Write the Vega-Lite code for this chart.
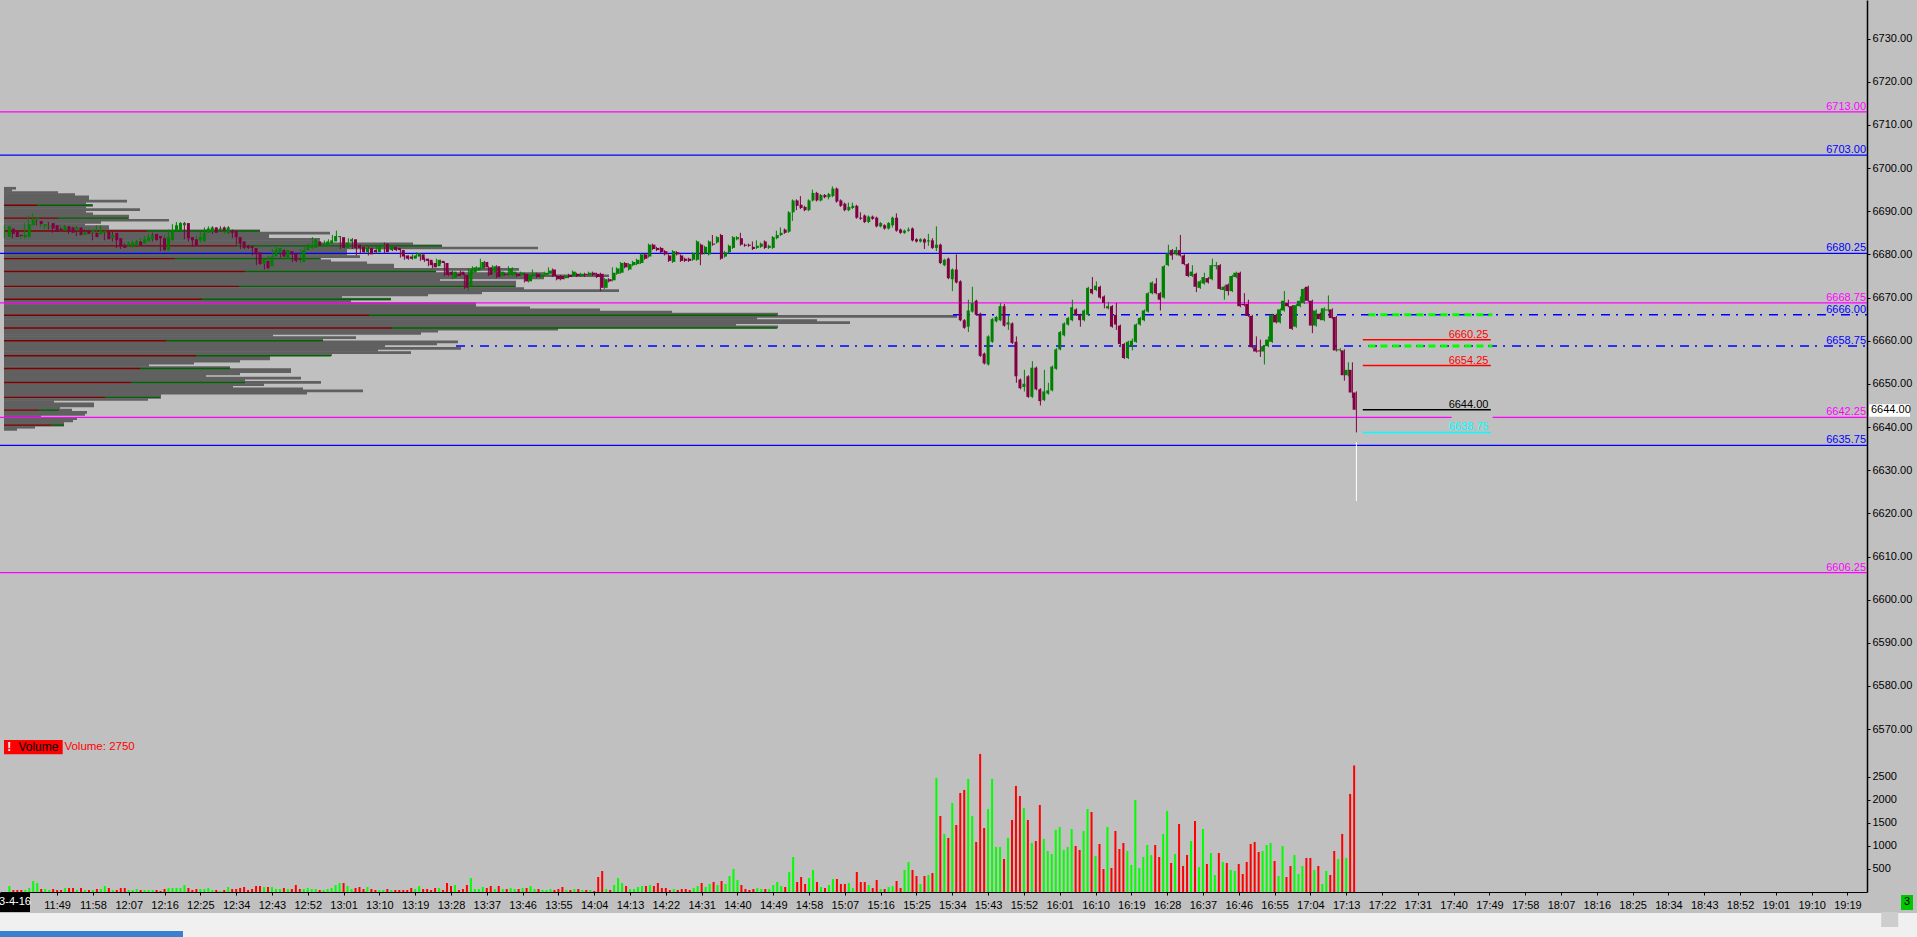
{
"$schema":"https://vega.github.io/schema/vega-lite/v6.json",
"width":1867,"height":892,
"autosize":{"type":"none"},
"padding":{"left":0,"top":0,"right":50,"bottom":45},
"background":"#c0c0c0",
"config":{
 "view":{"stroke":null,"fill":"#c0c0c0"},
 "axis":{"grid":false,"domainColor":"#000000","tickColor":"#000000","labelColor":"#000000","labelFont":"Liberation Sans","labelFontSize":11,"tickSize":3,"labelFlush":false,"labelOverlap":false},
 "text":{"font":"Liberation Sans","fontSize":11}
},
"datasets":{
 "lv":[{"p":6713,"k":"m"},{"p":6703,"k":"b"},{"p":6680.25,"k":"b"},{"p":6668.75,"k":"m"},{"p":6666,"k":"d","t0":934.15},{"p":6658.75,"k":"d","t0":809.9},{"p":6642.25,"k":"m"},{"p":6635.75,"k":"b"},{"p":6606.25,"k":"m"}],
 "mk":[{"p":6660.25,"k":"r"},{"p":6654.25,"k":"r"},{"p":6644,"k":"k"},{"p":6638.75,"k":"c"}],
 "prof":[{"p":6696,"w":12},{"p":6695.5,"w":8},{"p":6695,"w":54},{"p":6694.5,"w":71},{"p":6694,"w":85},{"p":6693.5,"w":85},{"p":6693,"w":123},{"p":6692.5,"w":82},{"p":6692,"w":89},{"p":6691.5,"w":82},{"p":6691,"w":136},{"p":6690.5,"w":82},{"p":6690,"w":89},{"p":6689.5,"w":125},{"p":6689,"w":125},{"p":6688.5,"w":165},{"p":6688,"w":97},{"p":6687.5,"w":81},{"p":6687,"w":105},{"p":6686.5,"w":105},{"p":6686,"w":256},{"p":6685.5,"w":326},{"p":6685,"w":265},{"p":6684.5,"w":265},{"p":6684,"w":316},{"p":6683.5,"w":316},{"p":6683,"w":409},{"p":6682.5,"w":438},{"p":6682,"w":534},{"p":6681.5,"w":343},{"p":6681,"w":343},{"p":6680.5,"w":343},{"p":6680,"w":356},{"p":6679.5,"w":317},{"p":6679,"w":327},{"p":6678.5,"w":363},{"p":6678,"w":390},{"p":6677.5,"w":390},{"p":6677,"w":515},{"p":6676.5,"w":432},{"p":6676,"w":540},{"p":6675.5,"w":605},{"p":6675,"w":540},{"p":6674.5,"w":436},{"p":6674,"w":512},{"p":6673.5,"w":512},{"p":6673,"w":512},{"p":6672.5,"w":520},{"p":6672,"w":615},{"p":6671.5,"w":478},{"p":6671,"w":424},{"p":6670.5,"w":338},{"p":6670,"w":387},{"p":6669.5,"w":347},{"p":6669,"w":472},{"p":6668.5,"w":472},{"p":6668,"w":526},{"p":6667.5,"w":596},{"p":6667,"w":668},{"p":6666.5,"w":774},{"p":6666,"w":953},{"p":6665.5,"w":753},{"p":6665,"w":813},{"p":6664.5,"w":846},{"p":6664,"w":732},{"p":6663.5,"w":774},{"p":6663,"w":554},{"p":6662.5,"w":434},{"p":6662,"w":417},{"p":6661.5,"w":269},{"p":6661,"w":352},{"p":6660.5,"w":319},{"p":6660,"w":454},{"p":6659.5,"w":433},{"p":6659,"w":381},{"p":6658.5,"w":457},{"p":6658,"w":374},{"p":6657.5,"w":407},{"p":6657,"w":328},{"p":6656.5,"w":266},{"p":6656,"w":266},{"p":6655.5,"w":236},{"p":6655,"w":190},{"p":6654.5,"w":145},{"p":6654,"w":226},{"p":6653.5,"w":287},{"p":6653,"w":287},{"p":6652.5,"w":236},{"p":6652,"w":202},{"p":6651.5,"w":297},{"p":6651,"w":241},{"p":6650.5,"w":317},{"p":6650,"w":260},{"p":6649.5,"w":229},{"p":6649,"w":299},{"p":6648.5,"w":359},{"p":6648,"w":303},{"p":6647.5,"w":157},{"p":6647,"w":157},{"p":6646.5,"w":144},{"p":6646,"w":50},{"p":6645.5,"w":90},{"p":6645,"w":90},{"p":6644.5,"w":56},{"p":6644,"w":68},{"p":6643.5,"w":83},{"p":6643,"w":81},{"p":6642.5,"w":37},{"p":6642,"w":73},{"p":6641.5,"w":69},{"p":6641,"w":60},{"p":6640.5,"w":60},{"p":6640,"w":31},{"p":6639.5,"w":13}],
 "delta":[{"p":6692,"r":33,"g":88},{"p":6689,"r":54,"g":124},{"p":6686,"r":143,"g":256},{"p":6682.5,"r":233,"g":438},{"p":6679.5,"r":171,"g":316},{"p":6676.5,"r":241,"g":432},{"p":6673,"r":235,"g":511},{"p":6670,"r":198,"g":387},{"p":6666.25,"r":365,"g":773},{"p":6663.25,"r":388,"g":773},{"p":6660.25,"r":162,"g":319},{"p":6656.75,"r":192,"g":327},{"p":6653.75,"r":136,"g":226},{"p":6650.5,"r":127,"g":241},{"p":6647,"r":101,"g":156},{"p":6644,"r":35,"g":55},{"p":6640.5,"r":47,"g":60}],
 "c":[
{"t":697,"o":6684,"h":6686.75,"l":6683.75,"c":6686.5,"v":130},
{"t":698,"o":6686,"h":6686.25,"l":6684.5,"c":6684.75,"v":43},
{"t":699,"o":6685.5,"h":6685.75,"l":6683.75,"c":6684,"v":43},
{"t":700,"o":6684.5,"h":6684.5,"l":6684,"c":6684.25,"v":43},
{"t":701,"o":6684,"h":6684.75,"l":6683.75,"c":6684.5,"v":43},
{"t":702,"o":6684,"h":6687.25,"l":6683.75,"c":6687,"v":87},
{"t":703,"o":6686.75,"h":6689,"l":6686.5,"c":6688,"v":240},
{"t":704,"o":6688,"h":6689.5,"l":6687.25,"c":6688.5,"v":196},
{"t":705,"o":6687.75,"h":6688,"l":6686.75,"c":6687,"v":65},
{"t":706,"o":6686.5,"h":6687.25,"l":6686.25,"c":6687,"v":65},
{"t":707,"o":6686.25,"h":6686.75,"l":6685.75,"c":6686.5,"v":43},
{"t":708,"o":6687.25,"h":6687.5,"l":6685.75,"c":6686,"v":65},
{"t":709,"o":6686.75,"h":6687,"l":6685,"c":6685.25,"v":43},
{"t":710,"o":6686,"h":6686.25,"l":6685.25,"c":6685.5,"v":43},
{"t":711,"o":6685.5,"h":6686.75,"l":6685.25,"c":6686.5,"v":87},
{"t":712,"o":6686.5,"h":6686.75,"l":6685.25,"c":6685.5,"v":87},
{"t":713,"o":6686.25,"h":6686.5,"l":6684.75,"c":6685,"v":87},
{"t":714,"o":6685.5,"h":6686.5,"l":6685.25,"c":6686.25,"v":43},
{"t":715,"o":6686.25,"h":6686.5,"l":6684.25,"c":6684.5,"v":87},
{"t":716,"o":6684.5,"h":6685.5,"l":6684.25,"c":6685.25,"v":43},
{"t":717,"o":6685.5,"h":6685.75,"l":6684.5,"c":6684.75,"v":43},
{"t":718,"o":6685,"h":6686,"l":6684.75,"c":6685.75,"v":43},
{"t":719,"o":6685,"h":6685.25,"l":6683.25,"c":6684,"v":65},
{"t":720,"o":6684.75,"h":6686.75,"l":6684.5,"c":6685.5,"v":65},
{"t":721,"o":6685,"h":6686.75,"l":6684.5,"c":6685.5,"v":130},
{"t":722,"o":6685.25,"h":6685.5,"l":6683.25,"c":6683.5,"v":87},
{"t":723,"o":6683.75,"h":6684.75,"l":6683.5,"c":6684.5,"v":43},
{"t":724,"o":6685,"h":6685.25,"l":6683,"c":6683.25,"v":43},
{"t":725,"o":6683.75,"h":6684,"l":6681.5,"c":6681.75,"v":87},
{"t":726,"o":6682.25,"h":6682.5,"l":6681.25,"c":6681.5,"v":87},
{"t":727,"o":6682,"h":6682.75,"l":6681.75,"c":6682.5,"v":43},
{"t":728,"o":6682,"h":6683,"l":6681.75,"c":6682.75,"v":43},
{"t":729,"o":6682,"h":6683.25,"l":6681.5,"c":6683,"v":65},
{"t":730,"o":6683,"h":6683.25,"l":6681.75,"c":6682,"v":43},
{"t":731,"o":6682.5,"h":6683.75,"l":6682.25,"c":6683.5,"v":43},
{"t":732,"o":6683,"h":6684.25,"l":6682.75,"c":6684,"v":43},
{"t":733,"o":6683.5,"h":6684.75,"l":6683.25,"c":6684.5,"v":43},
{"t":734,"o":6684.75,"h":6685,"l":6683,"c":6683.25,"v":43},
{"t":735,"o":6684.25,"h":6684.5,"l":6683.5,"c":6683.75,"v":22},
{"t":736,"o":6683.75,"h":6684,"l":6680.75,"c":6681,"v":65},
{"t":737,"o":6681,"h":6684.5,"l":6680.75,"c":6684,"v":87},
{"t":738,"o":6683.25,"h":6685.75,"l":6683,"c":6685.5,"v":87},
{"t":739,"o":6685.5,"h":6687,"l":6685.25,"c":6686.75,"v":87},
{"t":740,"o":6685.5,"h":6687.5,"l":6685.25,"c":6687.25,"v":87},
{"t":741,"o":6686.75,"h":6687.5,"l":6686.5,"c":6687.25,"v":152},
{"t":742,"o":6687.25,"h":6687.5,"l":6683.5,"c":6683.75,"v":87},
{"t":743,"o":6684,"h":6684.25,"l":6683,"c":6683.25,"v":43},
{"t":744,"o":6683.5,"h":6683.75,"l":6681.75,"c":6682,"v":65},
{"t":745,"o":6683.25,"h":6684.25,"l":6683,"c":6684,"v":65},
{"t":746,"o":6683,"h":6685.25,"l":6682.75,"c":6685,"v":65},
{"t":747,"o":6685,"h":6686.25,"l":6684.75,"c":6686,"v":87},
{"t":748,"o":6685.25,"h":6686.5,"l":6685,"c":6686.25,"v":43},
{"t":749,"o":6686.25,"h":6686.5,"l":6684.75,"c":6685,"v":43},
{"t":750,"o":6685.5,"h":6686.25,"l":6685.25,"c":6686,"v":22},
{"t":751,"o":6686.25,"h":6686.5,"l":6685.25,"c":6685.5,"v":43},
{"t":752,"o":6685,"h":6686.5,"l":6684.75,"c":6686.25,"v":109},
{"t":753,"o":6685.5,"h":6686.5,"l":6684.75,"c":6685,"v":65},
{"t":754,"o":6685.5,"h":6685.75,"l":6683.75,"c":6684,"v":65},
{"t":755,"o":6684,"h":6684.25,"l":6682.25,"c":6682.5,"v":87},
{"t":756,"o":6683,"h":6683.25,"l":6681.25,"c":6681.5,"v":109},
{"t":757,"o":6682,"h":6682.25,"l":6681.25,"c":6681.5,"v":43},
{"t":758,"o":6682,"h":6682.25,"l":6681.25,"c":6681.5,"v":65},
{"t":759,"o":6681.5,"h":6681.75,"l":6679.75,"c":6680,"v":130},
{"t":760,"o":6680.5,"h":6680.75,"l":6677.5,"c":6677.75,"v":130},
{"t":761,"o":6677.75,"h":6679.25,"l":6677.5,"c":6679,"v":109},
{"t":762,"o":6678.5,"h":6678.75,"l":6676.5,"c":6676.75,"v":109},
{"t":763,"o":6677.25,"h":6679.75,"l":6677,"c":6679.5,"v":109},
{"t":764,"o":6679.5,"h":6681.25,"l":6679.25,"c":6681,"v":65},
{"t":765,"o":6680.25,"h":6681.75,"l":6680,"c":6681.5,"v":65},
{"t":766,"o":6681,"h":6681.25,"l":6679.25,"c":6679.5,"v":87},
{"t":767,"o":6679,"h":6681.25,"l":6678.75,"c":6681,"v":65},
{"t":768,"o":6680.75,"h":6681,"l":6679.75,"c":6680,"v":65},
{"t":769,"o":6680.25,"h":6680.5,"l":6678.25,"c":6678.5,"v":152},
{"t":770,"o":6679,"h":6679.25,"l":6678.25,"c":6678.75,"v":65},
{"t":771,"o":6678.25,"h":6681.25,"l":6678,"c":6681,"v":65},
{"t":772,"o":6681,"h":6682,"l":6680.75,"c":6681.75,"v":87},
{"t":773,"o":6681.5,"h":6682.5,"l":6681.25,"c":6682.25,"v":65},
{"t":774,"o":6681.5,"h":6684,"l":6681.25,"c":6683.5,"v":65},
{"t":775,"o":6683,"h":6683.25,"l":6681.75,"c":6682,"v":43},
{"t":776,"o":6682,"h":6682.75,"l":6681.75,"c":6682.5,"v":43},
{"t":777,"o":6682,"h":6683.25,"l":6681.75,"c":6683,"v":65},
{"t":778,"o":6682.5,"h":6683.5,"l":6682.25,"c":6683.25,"v":87},
{"t":779,"o":6683,"h":6684.5,"l":6682.75,"c":6684.25,"v":152},
{"t":780,"o":6684,"h":6685.5,"l":6683.5,"c":6684.25,"v":196},
{"t":781,"o":6684,"h":6684.25,"l":6681.25,"c":6681.5,"v":196},
{"t":782,"o":6681.5,"h":6683,"l":6681.25,"c":6682.75,"v":130},
{"t":783,"o":6683,"h":6683.75,"l":6682.75,"c":6683.5,"v":65},
{"t":784,"o":6683.5,"h":6683.75,"l":6681.25,"c":6681.5,"v":87},
{"t":785,"o":6682.25,"h":6682.5,"l":6679.75,"c":6681.5,"v":109},
{"t":786,"o":6681.75,"h":6682,"l":6680.25,"c":6680.5,"v":65},
{"t":787,"o":6680.5,"h":6681.75,"l":6680.25,"c":6681.5,"v":109},
{"t":788,"o":6681.5,"h":6681.75,"l":6679.75,"c":6680,"v":65},
{"t":789,"o":6681,"h":6681.25,"l":6680.25,"c":6680.5,"v":43},
{"t":790,"o":6680.5,"h":6682,"l":6680.25,"c":6681.75,"v":43},
{"t":791,"o":6681.75,"h":6682.5,"l":6681.5,"c":6682.25,"v":43},
{"t":792,"o":6682.5,"h":6682.75,"l":6680.25,"c":6680.5,"v":65},
{"t":793,"o":6681,"h":6682.25,"l":6680.75,"c":6682,"v":43},
{"t":794,"o":6681.75,"h":6682,"l":6680.75,"c":6681,"v":43},
{"t":795,"o":6681.5,"h":6681.75,"l":6680.75,"c":6681,"v":43},
{"t":796,"o":6681,"h":6681.25,"l":6679.25,"c":6679.5,"v":43},
{"t":797,"o":6679.75,"h":6680,"l":6678.75,"c":6679,"v":43},
{"t":798,"o":6679.5,"h":6679.75,"l":6678.75,"c":6679,"v":87},
{"t":799,"o":6679,"h":6680,"l":6678.75,"c":6679.75,"v":65},
{"t":800,"o":6679.5,"h":6680.5,"l":6679.25,"c":6680.25,"v":130},
{"t":801,"o":6680,"h":6680.25,"l":6678.5,"c":6678.75,"v":65},
{"t":802,"o":6679,"h":6679.25,"l":6678.25,"c":6678.5,"v":65},
{"t":803,"o":6678.75,"h":6679,"l":6677.25,"c":6677.5,"v":43},
{"t":804,"o":6678,"h":6678.25,"l":6676.75,"c":6677,"v":87},
{"t":805,"o":6677.25,"h":6679,"l":6677,"c":6678.75,"v":87},
{"t":806,"o":6678.5,"h":6678.75,"l":6677.75,"c":6678,"v":43},
{"t":807,"o":6678,"h":6678.25,"l":6675,"c":6675.25,"v":196},
{"t":808,"o":6676,"h":6676.25,"l":6675,"c":6675.25,"v":130},
{"t":809,"o":6674.5,"h":6676.25,"l":6674.25,"c":6676,"v":152},
{"t":810,"o":6675.5,"h":6675.75,"l":6674.75,"c":6675,"v":43},
{"t":811,"o":6676,"h":6676.25,"l":6675,"c":6675.25,"v":65},
{"t":812,"o":6675.25,"h":6675.5,"l":6672,"c":6672.25,"v":152},
{"t":813,"o":6672.75,"h":6676.75,"l":6671.5,"c":6676.5,"v":305},
{"t":814,"o":6675.75,"h":6677.25,"l":6675.5,"c":6677,"v":65},
{"t":815,"o":6676.25,"h":6677.25,"l":6676,"c":6677,"v":65},
{"t":816,"o":6676.75,"h":6679,"l":6676.5,"c":6678.25,"v":109},
{"t":817,"o":6678.25,"h":6678.5,"l":6676.75,"c":6677,"v":87},
{"t":818,"o":6677,"h":6677.25,"l":6675,"c":6675.25,"v":130},
{"t":819,"o":6675.75,"h":6677.5,"l":6675.5,"c":6677.25,"v":65},
{"t":820,"o":6677.25,"h":6677.5,"l":6674.5,"c":6674.75,"v":130},
{"t":821,"o":6675,"h":6676.25,"l":6674.75,"c":6676,"v":65},
{"t":822,"o":6675.5,"h":6675.75,"l":6675,"c":6675.25,"v":65},
{"t":823,"o":6675.25,"h":6677.25,"l":6675,"c":6676.75,"v":87},
{"t":824,"o":6675.25,"h":6677,"l":6675,"c":6676,"v":65},
{"t":825,"o":6675.5,"h":6675.75,"l":6674.75,"c":6675,"v":65},
{"t":826,"o":6675.25,"h":6676,"l":6675,"c":6675.75,"v":87},
{"t":827,"o":6675.5,"h":6675.75,"l":6673.5,"c":6673.75,"v":87},
{"t":828,"o":6673.75,"h":6675.5,"l":6673.5,"c":6675.25,"v":130},
{"t":829,"o":6675,"h":6676.5,"l":6674.75,"c":6675.5,"v":65},
{"t":830,"o":6675.5,"h":6675.75,"l":6674.5,"c":6674.75,"v":65},
{"t":831,"o":6674.75,"h":6675.5,"l":6674.5,"c":6675.25,"v":43},
{"t":832,"o":6675.25,"h":6676,"l":6675,"c":6675.75,"v":43},
{"t":833,"o":6675.5,"h":6677,"l":6675.25,"c":6676.25,"v":65},
{"t":834,"o":6676.5,"h":6676.75,"l":6674.75,"c":6675,"v":43},
{"t":835,"o":6675,"h":6675.25,"l":6674,"c":6674.25,"v":65},
{"t":836,"o":6675,"h":6675.25,"l":6674,"c":6674.25,"v":109},
{"t":837,"o":6674.5,"h":6675.25,"l":6674.25,"c":6675,"v":43},
{"t":838,"o":6675.25,"h":6675.5,"l":6674.5,"c":6674.75,"v":43},
{"t":839,"o":6675,"h":6676.25,"l":6674.75,"c":6676,"v":65},
{"t":840,"o":6675.5,"h":6675.75,"l":6674.75,"c":6675,"v":65},
{"t":841,"o":6675,"h":6675.75,"l":6674.75,"c":6675.5,"v":43},
{"t":842,"o":6675.5,"h":6675.75,"l":6674.75,"c":6675.25,"v":43},
{"t":843,"o":6675.25,"h":6676,"l":6675,"c":6675.75,"v":43},
{"t":844,"o":6675.75,"h":6676,"l":6675,"c":6675.25,"v":22},
{"t":845,"o":6675.5,"h":6675.75,"l":6674.5,"c":6674.75,"v":326},
{"t":846,"o":6675.5,"h":6675.75,"l":6671.5,"c":6672.25,"v":457},
{"t":847,"o":6672.25,"h":6674.5,"l":6672,"c":6674.25,"v":65},
{"t":848,"o":6674.25,"h":6674.5,"l":6673.5,"c":6673.75,"v":43},
{"t":849,"o":6674,"h":6677,"l":6673.75,"c":6675.75,"v":152},
{"t":850,"o":6675.5,"h":6677,"l":6675.25,"c":6676.75,"v":305},
{"t":851,"o":6675.75,"h":6678.25,"l":6675.5,"c":6678,"v":196},
{"t":852,"o":6678,"h":6678.25,"l":6676.75,"c":6677,"v":130},
{"t":853,"o":6676.5,"h":6678,"l":6676.25,"c":6677.75,"v":65},
{"t":854,"o":6677.5,"h":6678.5,"l":6677.25,"c":6678.25,"v":65},
{"t":855,"o":6677.75,"h":6679,"l":6677.5,"c":6678.75,"v":109},
{"t":856,"o":6678,"h":6680.25,"l":6677.75,"c":6680,"v":130},
{"t":857,"o":6680,"h":6680.25,"l":6678.75,"c":6679,"v":130},
{"t":858,"o":6679.5,"h":6682.5,"l":6679.25,"c":6682.25,"v":152},
{"t":859,"o":6682.25,"h":6682.5,"l":6681,"c":6681.25,"v":130},
{"t":860,"o":6681.5,"h":6681.75,"l":6680.75,"c":6681,"v":196},
{"t":861,"o":6681.5,"h":6681.75,"l":6680.25,"c":6680.5,"v":87},
{"t":862,"o":6680.75,"h":6681,"l":6679.75,"c":6680,"v":87},
{"t":863,"o":6679.75,"h":6680,"l":6678.25,"c":6678.5,"v":43},
{"t":864,"o":6678.25,"h":6681,"l":6678,"c":6680.75,"v":65},
{"t":865,"o":6680.5,"h":6680.75,"l":6679.75,"c":6680,"v":43},
{"t":866,"o":6679.75,"h":6680,"l":6678.25,"c":6678.5,"v":65},
{"t":867,"o":6679,"h":6679.25,"l":6678.25,"c":6678.5,"v":65},
{"t":868,"o":6679,"h":6679.25,"l":6678.25,"c":6678.5,"v":43},
{"t":869,"o":6678.75,"h":6680.5,"l":6678.5,"c":6680.25,"v":87},
{"t":870,"o":6678.75,"h":6683.25,"l":6678.5,"c":6683,"v":130},
{"t":871,"o":6682.25,"h":6682.5,"l":6677.5,"c":6680,"v":196},
{"t":872,"o":6680.25,"h":6682,"l":6680,"c":6681.75,"v":109},
{"t":873,"o":6680,"h":6683.25,"l":6679.75,"c":6683,"v":174},
{"t":874,"o":6682.5,"h":6684.5,"l":6682,"c":6682.25,"v":218},
{"t":875,"o":6682.75,"h":6684.25,"l":6682.5,"c":6684,"v":152},
{"t":876,"o":6684.5,"h":6684.75,"l":6678.75,"c":6679,"v":239},
{"t":877,"o":6679.5,"h":6680.75,"l":6679.25,"c":6680.5,"v":174},
{"t":878,"o":6680.5,"h":6682.25,"l":6680.25,"c":6682,"v":348},
{"t":879,"o":6681.5,"h":6684.25,"l":6681.25,"c":6684,"v":500},
{"t":880,"o":6683.5,"h":6684.25,"l":6683.25,"c":6684,"v":261},
{"t":881,"o":6683.75,"h":6685,"l":6682,"c":6682.25,"v":152},
{"t":882,"o":6682.25,"h":6682.5,"l":6681.75,"c":6682,"v":65},
{"t":883,"o":6682.25,"h":6682.5,"l":6681.75,"c":6682,"v":43},
{"t":884,"o":6681.75,"h":6683,"l":6681,"c":6681.25,"v":65},
{"t":885,"o":6681.5,"h":6683.25,"l":6681.25,"c":6682,"v":87},
{"t":886,"o":6681.75,"h":6682.75,"l":6681.5,"c":6682.5,"v":65},
{"t":887,"o":6683,"h":6683.25,"l":6681.25,"c":6681.5,"v":65},
{"t":888,"o":6681.5,"h":6682.25,"l":6681.25,"c":6682,"v":65},
{"t":889,"o":6681.5,"h":6684.25,"l":6681.25,"c":6684,"v":152},
{"t":890,"o":6683.75,"h":6685.5,"l":6683.5,"c":6684.5,"v":218},
{"t":891,"o":6684.5,"h":6686.25,"l":6684.25,"c":6685,"v":130},
{"t":892,"o":6685.75,"h":6686,"l":6684.75,"c":6685,"v":109},
{"t":893,"o":6685.25,"h":6690,"l":6685,"c":6689.75,"v":435},
{"t":894,"o":6689.75,"h":6692.75,"l":6687.75,"c":6692.5,"v":761},
{"t":895,"o":6692.5,"h":6692.75,"l":6690.25,"c":6691.25,"v":218},
{"t":896,"o":6691.5,"h":6693.5,"l":6690.5,"c":6690.75,"v":326},
{"t":897,"o":6691,"h":6691.25,"l":6690,"c":6690.25,"v":174},
{"t":898,"o":6690.25,"h":6692.75,"l":6690,"c":6692.5,"v":305},
{"t":899,"o":6692.5,"h":6695,"l":6692.25,"c":6694.25,"v":479},
{"t":900,"o":6694.25,"h":6694.5,"l":6692.25,"c":6692.5,"v":218},
{"t":901,"o":6692.5,"h":6694,"l":6692.25,"c":6693.75,"v":109},
{"t":902,"o":6693.75,"h":6694,"l":6693,"c":6693.25,"v":87},
{"t":903,"o":6693.25,"h":6694.25,"l":6692.75,"c":6694,"v":152},
{"t":904,"o":6693.5,"h":6695.75,"l":6693.25,"c":6695.25,"v":283},
{"t":905,"o":6695.25,"h":6695.5,"l":6692,"c":6692.25,"v":283},
{"t":906,"o":6692.5,"h":6692.75,"l":6691,"c":6691.25,"v":174},
{"t":907,"o":6691.75,"h":6692,"l":6690,"c":6690.25,"v":174},
{"t":908,"o":6690.25,"h":6692,"l":6690,"c":6691,"v":196},
{"t":909,"o":6690.75,"h":6692,"l":6690.5,"c":6691.25,"v":87},
{"t":910,"o":6691.25,"h":6691.5,"l":6688.25,"c":6688.5,"v":435},
{"t":911,"o":6688.5,"h":6689.75,"l":6688,"c":6688.25,"v":218},
{"t":912,"o":6689,"h":6689.25,"l":6687.25,"c":6687.5,"v":218},
{"t":913,"o":6687.5,"h":6689,"l":6687.25,"c":6688.75,"v":152},
{"t":914,"o":6688.75,"h":6689,"l":6688,"c":6688.25,"v":87},
{"t":915,"o":6688.5,"h":6688.75,"l":6686.25,"c":6686.5,"v":261},
{"t":916,"o":6686.5,"h":6687.5,"l":6686.25,"c":6687.25,"v":65},
{"t":917,"o":6686.75,"h":6687,"l":6685.75,"c":6686,"v":65},
{"t":918,"o":6686,"h":6687.5,"l":6685.75,"c":6687.25,"v":109},
{"t":919,"o":6686.75,"h":6688.75,"l":6686.25,"c":6688.5,"v":130},
{"t":920,"o":6688.5,"h":6689.5,"l":6685.25,"c":6685.5,"v":239},
{"t":921,"o":6685.75,"h":6686,"l":6684.75,"c":6685,"v":87},
{"t":922,"o":6685,"h":6685.75,"l":6684.75,"c":6685.5,"v":479},
{"t":923,"o":6685.5,"h":6686.25,"l":6685.25,"c":6685.75,"v":653},
{"t":924,"o":6686,"h":6686.25,"l":6683,"c":6683.25,"v":479},
{"t":925,"o":6683.5,"h":6683.75,"l":6682.75,"c":6683,"v":348},
{"t":926,"o":6683,"h":6683.75,"l":6682.75,"c":6683.5,"v":174},
{"t":927,"o":6683.5,"h":6683.75,"l":6681.25,"c":6682.75,"v":348},
{"t":928,"o":6683,"h":6684.75,"l":6682,"c":6683.25,"v":370},
{"t":929,"o":6683.25,"h":6683.75,"l":6681.25,"c":6681.5,"v":413},
{"t":930,"o":6681.5,"h":6686.5,"l":6680.75,"c":6682.25,"v":2480},
{"t":931,"o":6682.25,"h":6682.5,"l":6677.75,"c":6678,"v":1653},
{"t":932,"o":6677.5,"h":6679,"l":6677.25,"c":6678.75,"v":1262},
{"t":933,"o":6679,"h":6679.25,"l":6674.25,"c":6674.5,"v":1175},
{"t":934,"o":6674.25,"h":6676.75,"l":6671.5,"c":6676.5,"v":1936},
{"t":935,"o":6676.5,"h":6680,"l":6673.25,"c":6673.5,"v":1457},
{"t":936,"o":6673.75,"h":6674,"l":6664.5,"c":6664.75,"v":2153},
{"t":937,"o":6664.75,"h":6665,"l":6662.75,"c":6663,"v":2219},
{"t":938,"o":6663.25,"h":6669.5,"l":6662,"c":6667,"v":2458},
{"t":939,"o":6666.75,"h":6672.5,"l":6666.5,"c":6668.75,"v":1653},
{"t":940,"o":6669.25,"h":6669.5,"l":6665.75,"c":6666,"v":1088},
{"t":941,"o":6666.25,"h":6666.5,"l":6656.25,"c":6656.5,"v":3002},
{"t":942,"o":6657,"h":6657.25,"l":6654.5,"c":6654.75,"v":1392},
{"t":943,"o":6654.5,"h":6661.25,"l":6654.25,"c":6661,"v":1805},
{"t":944,"o":6659.75,"h":6665.25,"l":6659.5,"c":6665,"v":2458},
{"t":945,"o":6664.5,"h":6665.75,"l":6664.25,"c":6665.5,"v":979},
{"t":946,"o":6664.75,"h":6668.75,"l":6664.5,"c":6668,"v":979},
{"t":947,"o":6668,"h":6668.5,"l":6663.25,"c":6663.5,"v":718},
{"t":948,"o":6663.75,"h":6666,"l":6662.5,"c":6664.25,"v":1175},
{"t":949,"o":6664,"h":6664.25,"l":6659.25,"c":6659.5,"v":1566},
{"t":950,"o":6659.75,"h":6661,"l":6650.25,"c":6651.75,"v":2306},
{"t":951,"o":6651,"h":6651.25,"l":6648.75,"c":6649,"v":2088},
{"t":952,"o":6649.25,"h":6653.25,"l":6648.25,"c":6650,"v":1827},
{"t":953,"o":6651.75,"h":6652,"l":6646.75,"c":6647,"v":1566},
{"t":954,"o":6647,"h":6655.25,"l":6646.75,"c":6653.75,"v":1066},
{"t":955,"o":6653.75,"h":6654,"l":6648.5,"c":6648.75,"v":1109},
{"t":956,"o":6648.75,"h":6649,"l":6645,"c":6646,"v":1892},
{"t":957,"o":6646.25,"h":6653.25,"l":6646,"c":6648.25,"v":1153},
{"t":958,"o":6647.75,"h":6650.25,"l":6647.5,"c":6648.5,"v":892},
{"t":959,"o":6648.5,"h":6654.25,"l":6648.25,"c":6654,"v":827},
{"t":960,"o":6653.5,"h":6658.25,"l":6653.25,"c":6658,"v":1349},
{"t":961,"o":6658,"h":6662.25,"l":6657.75,"c":6662,"v":1414},
{"t":962,"o":6661.25,"h":6664.25,"l":6661,"c":6664,"v":914},
{"t":963,"o":6663.75,"h":6665.5,"l":6663.5,"c":6665.25,"v":979},
{"t":964,"o":6664.75,"h":6669.5,"l":6664.5,"c":6667.75,"v":1370},
{"t":965,"o":6667.25,"h":6667.5,"l":6665.75,"c":6666,"v":1001},
{"t":966,"o":6666,"h":6666.25,"l":6663.25,"c":6664.75,"v":914},
{"t":967,"o":6664.75,"h":6667.25,"l":6664.5,"c":6667,"v":1327},
{"t":968,"o":6666,"h":6672.5,"l":6665.75,"c":6672.25,"v":1805},
{"t":969,"o":6672,"h":6674.75,"l":6670.75,"c":6671,"v":1740},
{"t":970,"o":6671.75,"h":6673.75,"l":6671.5,"c":6672.75,"v":783},
{"t":971,"o":6672.5,"h":6672.75,"l":6669.75,"c":6670,"v":1044},
{"t":972,"o":6670.25,"h":6670.5,"l":6667.5,"c":6668.75,"v":500},
{"t":973,"o":6667.5,"h":6669,"l":6667.25,"c":6668,"v":1414},
{"t":974,"o":6668,"h":6668.25,"l":6663,"c":6663.25,"v":522},
{"t":975,"o":6666,"h":6668.75,"l":6662.5,"c":6663.75,"v":1327},
{"t":976,"o":6663.5,"h":6663.75,"l":6659,"c":6659.25,"v":935},
{"t":977,"o":6659.25,"h":6659.5,"l":6655.75,"c":6656,"v":1066},
{"t":978,"o":6656,"h":6660,"l":6655.75,"c":6659.75,"v":892},
{"t":979,"o":6658.75,"h":6660.5,"l":6657.75,"c":6660,"v":587},
{"t":980,"o":6659.75,"h":6664,"l":6659.5,"c":6663.75,"v":2001},
{"t":981,"o":6663.75,"h":6665.5,"l":6663.5,"c":6665.25,"v":522},
{"t":982,"o":6664.75,"h":6667.25,"l":6664.5,"c":6667,"v":761},
{"t":983,"o":6666.75,"h":6671.25,"l":6666.5,"c":6671,"v":1022},
{"t":984,"o":6671,"h":6673.75,"l":6670.75,"c":6673.5,"v":805},
{"t":985,"o":6673.25,"h":6674.5,"l":6670.75,"c":6671,"v":1022},
{"t":986,"o":6671,"h":6671.25,"l":6667,"c":6669.5,"v":761},
{"t":987,"o":6670,"h":6677.5,"l":6669.75,"c":6677.25,"v":1262},
{"t":988,"o":6677.5,"h":6682.25,"l":6677.25,"c":6680.25,"v":1762},
{"t":989,"o":6681,"h":6681.25,"l":6678.75,"c":6679.75,"v":631},
{"t":990,"o":6680,"h":6681.75,"l":6679.75,"c":6681,"v":827},
{"t":991,"o":6681,"h":6684.5,"l":6679.5,"c":6679.75,"v":1479},
{"t":992,"o":6679.75,"h":6680,"l":6677.5,"c":6677.75,"v":566},
{"t":993,"o":6677.75,"h":6678,"l":6674.75,"c":6675,"v":805},
{"t":994,"o":6675,"h":6677.5,"l":6674.75,"c":6676,"v":1109},
{"t":995,"o":6675.5,"h":6675.75,"l":6671.25,"c":6672.5,"v":1544},
{"t":996,"o":6672.25,"h":6674,"l":6672,"c":6673.75,"v":544},
{"t":997,"o":6673.25,"h":6675.75,"l":6673,"c":6674.75,"v":1370},
{"t":998,"o":6674.5,"h":6674.75,"l":6673.25,"c":6673.5,"v":609},
{"t":999,"o":6674.25,"h":6679,"l":6674,"c":6677.5,"v":848},
{"t":1000,"o":6677.25,"h":6678.25,"l":6676.5,"c":6677.5,"v":370},
{"t":1001,"o":6677.5,"h":6677.75,"l":6671.75,"c":6672,"v":848},
{"t":1002,"o":6671.75,"h":6672.75,"l":6669.5,"c":6672.5,"v":653},
{"t":1003,"o":6673,"h":6673.25,"l":6670.5,"c":6671.5,"v":631},
{"t":1004,"o":6671.5,"h":6675.25,"l":6671.25,"c":6675,"v":479},
{"t":1005,"o":6674.75,"h":6676,"l":6674.5,"c":6675.75,"v":457},
{"t":1006,"o":6675.75,"h":6676,"l":6667.75,"c":6668,"v":609},
{"t":1007,"o":6668.5,"h":6671,"l":6668,"c":6668.25,"v":392},
{"t":1008,"o":6668.5,"h":6669.5,"l":6665.5,"c":6665.75,"v":653},
{"t":1009,"o":6665.75,"h":6666,"l":6658.25,"c":6658.5,"v":1044},
{"t":1010,"o":6658.5,"h":6661,"l":6657.25,"c":6657.5,"v":1088},
{"t":1011,"o":6657.75,"h":6660.25,"l":6656.25,"c":6657.5,"v":870},
{"t":1012,"o":6657.5,"h":6659,"l":6654.5,"c":6658.75,"v":892},
{"t":1013,"o":6658.75,"h":6661,"l":6658.5,"c":6660.25,"v":1022},
{"t":1014,"o":6659.75,"h":6666.25,"l":6659.5,"c":6666,"v":1066},
{"t":1015,"o":6666,"h":6666.25,"l":6664,"c":6664.25,"v":674},
{"t":1016,"o":6664.25,"h":6667.5,"l":6664,"c":6667.25,"v":348},
{"t":1017,"o":6667,"h":6671.5,"l":6666.75,"c":6669.25,"v":1001},
{"t":1018,"o":6668.75,"h":6669.5,"l":6667.75,"c":6668,"v":326},
{"t":1019,"o":6668,"h":6668.25,"l":6662.5,"c":6662.75,"v":566},
{"t":1020,"o":6663.25,"h":6668.5,"l":6663,"c":6668.25,"v":805},
{"t":1021,"o":6668,"h":6670.25,"l":6667.75,"c":6669.25,"v":392},
{"t":1022,"o":6668.75,"h":6672.25,"l":6668.5,"c":6672,"v":566},
{"t":1023,"o":6672.5,"h":6672.75,"l":6669,"c":6669.25,"v":740},
{"t":1024,"o":6669.25,"h":6669.5,"l":6661.75,"c":6663.5,"v":740},
{"t":1025,"o":6663.5,"h":6667.25,"l":6663.25,"c":6667,"v":479},
{"t":1026,"o":6666.25,"h":6666.5,"l":6664.75,"c":6665,"v":566},
{"t":1027,"o":6664.75,"h":6667.75,"l":6664.5,"c":6667.5,"v":174},
{"t":1028,"o":6667,"h":6670.5,"l":6666.75,"c":6667.25,"v":457},
{"t":1029,"o":6667.25,"h":6667.5,"l":6665,"c":6665.25,"v":370},
{"t":1030,"o":6665.5,"h":6665.75,"l":6657.5,"c":6657.75,"v":892},
{"t":1031,"o":6657.75,"h":6658.25,"l":6657.5,"c":6658,"v":718},
{"t":1032,"o":6657.75,"h":6658,"l":6650.75,"c":6652,"v":1262},
{"t":1033,"o":6652,"h":6655,"l":6651.75,"c":6653.25,"v":740},
{"t":1034,"o":6653.25,"h":6655,"l":6646.75,"c":6648,"v":2132},
{"t":1035,"o":6648,"h":6648.25,"l":6638.75,"c":6644,"v":2750}
 ]
},
"resolve":{"scale":{"x":"independent","y":"independent"}},
"layer":[
 {"data":{"name":"prof"},"mark":{"type":"bar","orient":"horizontal","size":2.7,"color":"#606060"},
  "encoding":{
   "y":{"field":"p","type":"quantitative","scale":{"domain":[6532.27,6738.94],"nice":false,"zero":false},"axis":null},
   "x":{"field":"w","type":"quantitative","scale":{"domain":[-4,1863],"nice":false,"zero":false},"axis":null}}},
 {"data":{"name":"delta"},"mark":{"type":"bar","orient":"horizontal","size":1.4,"color":"#800000"},
  "encoding":{
   "y":{"field":"p","type":"quantitative","scale":{"domain":[6532.27,6738.94],"nice":false,"zero":false},"axis":null},
   "x":{"field":"r","type":"quantitative","scale":{"domain":[-4,1863],"nice":false,"zero":false},"axis":null}}},
 {"data":{"name":"delta"},"mark":{"type":"bar","orient":"horizontal","size":1.4,"color":"#006400"},
  "encoding":{
   "y":{"field":"p","type":"quantitative","scale":{"domain":[6532.27,6738.94],"nice":false,"zero":false},"axis":null},
   "x":{"field":"g","type":"quantitative","scale":{"domain":[-4,1863],"nice":false,"zero":false},"axis":null},
   "x2":{"field":"r"}}},
 {"data":{"name":"lv"},"transform":[{"filter":"datum.k == 'm'"}],"mark":{"type":"rule","color":"#ff00ff","strokeWidth":1.3},
  "encoding":{"y":{"field":"p","type":"quantitative","scale":{"domain":[6532.27,6738.94],"nice":false,"zero":false},"axis":null}}},
 {"data":{"name":"lv"},"transform":[{"filter":"datum.k == 'b'"}],"mark":{"type":"rule","color":"#0000ff","strokeWidth":1.3},
  "encoding":{"y":{"field":"p","type":"quantitative","scale":{"domain":[6532.27,6738.94],"nice":false,"zero":false},"axis":null}}},
 {"data":{"name":"lv"},"transform":[{"filter":"datum.k == 'd'"}],"mark":{"type":"rule","color":"#0000ff","strokeWidth":1.5,"strokeDash":[9,6,2,7]},
  "encoding":{
   "y":{"field":"p","type":"quantitative","scale":{"domain":[6532.27,6738.94],"nice":false,"zero":false},"axis":null},
   "x":{"field":"t0","type":"quantitative","scale":{"domain":[695.9,1162.65],"nice":false,"zero":false},"axis":null},
   "x2":{"value":"width"}}},
 {"data":{"name":"lv"},"mark":{"type":"text","align":"right","baseline":"alphabetic","dx":-1,"dy":-2,"fontSize":11},
  "encoding":{
   "y":{"field":"p","type":"quantitative","scale":{"domain":[6532.27,6738.94],"nice":false,"zero":false},"axis":null},
   "x":{"datum":1162.65,"type":"quantitative","scale":{"domain":[695.9,1162.65],"nice":false,"zero":false},"axis":null},
   "text":{"field":"p","type":"quantitative","format":".2f"},
   "color":{"field":"k","type":"nominal","scale":{"domain":["m","b","d","r","k","c"],"range":["#ff00ff","#0000ff","#0000ff","#ff0000","#000000","#00ffff"]},"legend":null}}},
 {"data":{"name":"lv"},"transform":[{"filter":"datum.k == 'd'"}],"mark":{"type":"point","shape":"M0,0H2","size":15376,"filled":false,"color":"#00ff00","strokeWidth":3,"strokeDash":[7,5],"opacity":1},
  "encoding":{
   "y":{"field":"p","type":"quantitative","scale":{"domain":[6532.27,6738.94],"nice":false,"zero":false},"axis":null},
   "x":{"datum":1038,"type":"quantitative","scale":{"domain":[695.9,1162.65],"nice":false,"zero":false},"axis":null}}},
 {"data":{"name":"mk"},"mark":{"type":"point","shape":"M0,0H2","size":16384,"filled":false,"strokeWidth":1.5,"opacity":1},
  "encoding":{
   "y":{"field":"p","type":"quantitative","scale":{"domain":[6532.27,6738.94],"nice":false,"zero":false},"axis":null},
   "x":{"datum":1036.6,"type":"quantitative","scale":{"domain":[695.9,1162.65],"nice":false,"zero":false},"axis":null},
   "color":{"field":"k","type":"nominal","scale":{"domain":["m","b","d","r","k","c"],"range":["#ff00ff","#0000ff","#0000ff","#ff0000","#000000","#00ffff"]},"legend":null}}},
 {"data":{"values":[{}]},"mark":{"type":"point","shape":"M0,-0.293H2V0.293H0Z","size":1681,"filled":true,"color":"#c0c0c0","strokeWidth":0,"opacity":1},
  "encoding":{
   "x":{"datum":1058.8,"type":"quantitative","scale":{"domain":[695.9,1162.65],"nice":false,"zero":false},"axis":null},
   "y":{"datum":6641.4,"type":"quantitative","scale":{"domain":[6532.27,6738.94],"nice":false,"zero":false},"axis":null}}},
 {"data":{"name":"mk"},"mark":{"type":"text","align":"right","baseline":"alphabetic","dy":-2,"fontSize":11},
  "encoding":{
   "y":{"field":"p","type":"quantitative","scale":{"domain":[6532.27,6738.94],"nice":false,"zero":false},"axis":null},
   "x":{"datum":1068,"type":"quantitative","scale":{"domain":[695.9,1162.65],"nice":false,"zero":false},"axis":null},
   "text":{"field":"p","type":"quantitative","format":".2f"},
   "color":{"field":"k","type":"nominal","scale":{"domain":["m","b","d","r","k","c"],"range":["#ff00ff","#0000ff","#0000ff","#ff0000","#000000","#00ffff"]},"legend":null}}},
 {"data":{"values":[{}]},"mark":{"type":"point","shape":"M0,0V2","size":3481,"filled":false,"color":"#ffffff","strokeWidth":1,"opacity":1},
  "encoding":{
   "x":{"datum":1035,"type":"quantitative","scale":{"domain":[695.9,1162.65],"nice":false,"zero":false},"axis":null},
   "y":{"datum":6636.5,"type":"quantitative","scale":{"domain":[6532.27,6738.94],"nice":false,"zero":false},"axis":null}}},
 {"data":{"name":"c"},"mark":{"type":"rule","strokeWidth":1},
  "encoding":{
   "x":{"field":"t","type":"quantitative","scale":{"domain":[695.9,1162.65],"nice":false,"zero":false},"axis":null},
   "y":{"field":"l","type":"quantitative","scale":{"domain":[6532.27,6738.94],"nice":false,"zero":false},"axis":null},
   "y2":{"field":"h"},
   "color":{"condition":{"test":"datum.c >= datum.o","value":"#008000"},"value":"#800040"}}},
 {"data":{"name":"c"},"mark":{"type":"bar","orient":"vertical","size":3},
  "encoding":{
   "x":{"field":"t","type":"quantitative","scale":{"domain":[695.9,1162.65],"nice":false,"zero":false},
    "axis":{"orient":"bottom","title":null,"labelPadding":4,"values":[697,709,718,727,736,745,754,763,772,781,790,799,808,817,826,835,844,853,862,871,880,889,898,907,916,925,934,943,952,961,970,979,988,997,1006,1015,1024,1033,1042,1051,1060,1069,1078,1087,1096,1105,1114,1123,1132,1141,1150,1159],
     "labelExpr":"datum.value == 697 ? '' : floor(datum.value/60) + ':' + (datum.value % 60 < 10 ? '0' : '') + (datum.value % 60)"}},
   "y":{"field":"o","type":"quantitative","scale":{"domain":[6532.27,6738.94],"nice":false,"zero":false},
    "axis":{"orient":"right","title":null,"labelPadding":2,"domainWidth":1.5,"format":".2f","values":[6570,6580,6590,6600,6610,6620,6630,6640,6650,6660,6670,6680,6690,6700,6710,6720,6730]}},
   "y2":{"field":"c"},
   "color":{"condition":{"test":"datum.c >= datum.o","value":"#008000"},"value":"#800040"}}},
 {"data":{"name":"c"},"mark":{"type":"bar","orient":"vertical","size":2},
  "encoding":{
   "x":{"field":"t","type":"quantitative","scale":{"domain":[695.9,1162.65],"nice":false,"zero":false},"axis":null},
   "y":{"field":"v","type":"quantitative","scale":{"domain":[0,19390],"nice":false},
    "axis":{"orient":"right","title":null,"domain":false,"labelPadding":2,"format":"d","values":[500,1000,1500,2000,2500]}},
   "color":{"condition":{"test":"datum.c >= datum.o","value":"#00ff00"},"value":"#ff0000"}}},
 {"data":{"values":[{}]},"mark":{"type":"point","shape":"M0,-0.3024H2V0.3024H0Z","size":1681,"filled":true,"color":"#ffffff","strokeWidth":0,"opacity":1},
  "encoding":{
   "x":{"datum":1163.15,"type":"quantitative","scale":{"domain":[695.9,1162.65],"nice":false,"zero":false},"axis":null},
   "y":{"datum":6643.84,"type":"quantitative","scale":{"domain":[6532.27,6738.94],"nice":false,"zero":false},"axis":null}}},
 {"data":{"values":[{}]},"mark":{"type":"text","align":"left","baseline":"middle","dx":4,"fontSize":11,"color":"#000000","text":"6644.00"},
  "encoding":{
   "x":{"datum":1162.65,"type":"quantitative","scale":{"domain":[695.9,1162.65],"nice":false,"zero":false},"axis":null},
   "y":{"datum":6643.84,"type":"quantitative","scale":{"domain":[6532.27,6738.94],"nice":false,"zero":false},"axis":null}}},
 {"data":{"values":[{}]},"mark":{"type":"point","shape":"M0,-0.2436H2V0.2436H0Z","size":3445,"filled":true,"color":"#ff0000","strokeWidth":0,"opacity":1},
  "encoding":{
   "x":{"datum":696.9,"type":"quantitative","scale":{"domain":[695.9,1162.65],"nice":false,"zero":false},"axis":null},
   "y":{"datum":6565.83,"type":"quantitative","scale":{"domain":[6532.27,6738.94],"nice":false,"zero":false},"axis":null}}},
 {"data":{"values":[{}]},"mark":{"type":"text","align":"center","baseline":"middle","fontSize":12,"fontWeight":"bold","color":"#ffffff","text":"!"},
  "encoding":{
   "x":{"datum":698.2,"type":"quantitative","scale":{"domain":[695.9,1162.65],"nice":false,"zero":false},"axis":null},
   "y":{"datum":6565.83,"type":"quantitative","scale":{"domain":[6532.27,6738.94],"nice":false,"zero":false},"axis":null}}},
 {"data":{"values":[{}]},"mark":{"type":"text","align":"left","baseline":"middle","fontSize":12,"color":"#000000","text":"Volume"},
  "encoding":{
   "x":{"datum":700.5,"type":"quantitative","scale":{"domain":[695.9,1162.65],"nice":false,"zero":false},"axis":null},
   "y":{"datum":6565.83,"type":"quantitative","scale":{"domain":[6532.27,6738.94],"nice":false,"zero":false},"axis":null}}},
 {"data":{"values":[{}]},"mark":{"type":"text","align":"left","baseline":"middle","fontSize":11.5,"color":"#ff0000","text":"Volume: 2750"},
  "encoding":{
   "x":{"datum":712,"type":"quantitative","scale":{"domain":[695.9,1162.65],"nice":false,"zero":false},"axis":null},
   "y":{"datum":6565.83,"type":"quantitative","scale":{"domain":[6532.27,6738.94],"nice":false,"zero":false},"axis":null}}},
 {"data":{"values":[{}]},"mark":{"type":"point","shape":"M0,-0.01252H2V0.01252H0Z","size":3674889,"filled":true,"color":"#f0f0f0","strokeWidth":0,"opacity":1},
  "encoding":{
   "x":{"datum":695.9,"type":"quantitative","scale":{"domain":[695.9,1162.65],"nice":false,"zero":false},"axis":null},
   "y":{"datum":6524.62,"type":"quantitative","scale":{"domain":[6532.27,6738.94],"nice":false,"zero":false},"axis":null}}},
 {"data":{"values":[{}]},"mark":{"type":"point","shape":"M0,-0.882H2V0.882H0Z","size":289,"filled":true,"color":"#cdcdcd","strokeWidth":0,"opacity":1},
  "encoding":{
   "x":{"datum":1166.2,"type":"quantitative","scale":{"domain":[695.9,1162.65],"nice":false,"zero":false},"axis":null},
   "y":{"datum":6525.9,"type":"quantitative","scale":{"domain":[6532.27,6738.94],"nice":false,"zero":false},"axis":null}}},
 {"data":{"values":[{}]},"mark":{"type":"point","shape":"M0,-0.0328H2V0.0328H0Z","size":33489,"filled":true,"color":"#3a80d0","strokeWidth":0,"opacity":1},
  "encoding":{
   "x":{"datum":695.9,"type":"quantitative","scale":{"domain":[695.9,1162.65],"nice":false,"zero":false},"axis":null},
   "y":{"datum":6522.53,"type":"quantitative","scale":{"domain":[6532.27,6738.94],"nice":false,"zero":false},"axis":null}}},
 {"data":{"values":[{}]},"mark":{"type":"point","shape":"M0,-0.633H2V0.633H0Z","size":900,"filled":true,"color":"#000000","strokeWidth":0,"opacity":1},
  "encoding":{
   "x":{"datum":695.9,"type":"quantitative","scale":{"domain":[695.9,1162.65],"nice":false,"zero":false},"axis":null},
   "y":{"datum":6529.84,"type":"quantitative","scale":{"domain":[6532.27,6738.94],"nice":false,"zero":false},"axis":null}}},
 {"data":{"values":[{}]},"mark":{"type":"text","align":"center","baseline":"middle","fontSize":11,"color":"#ffffff","text":"3-4-16"},
  "encoding":{
   "x":{"datum":699.65,"type":"quantitative","scale":{"domain":[695.9,1162.65],"nice":false,"zero":false},"axis":null},
   "y":{"datum":6529.84,"type":"quantitative","scale":{"domain":[6532.27,6738.94],"nice":false,"zero":false},"axis":null}}},
 {"data":{"values":[{}]},"mark":{"type":"point","shape":"M0,-1.25H2V1.25H0Z","size":144,"filled":true,"color":"#00c800","strokeWidth":0,"opacity":1},
  "encoding":{
   "x":{"datum":1171.15,"type":"quantitative","scale":{"domain":[695.9,1162.65],"nice":false,"zero":false},"axis":null},
   "y":{"datum":6529.84,"type":"quantitative","scale":{"domain":[6532.27,6738.94],"nice":false,"zero":false},"axis":null}}},
 {"data":{"values":[{}]},"mark":{"type":"text","align":"center","baseline":"middle","fontSize":11,"color":"#000000","text":"3"},
  "encoding":{
   "x":{"datum":1172.65,"type":"quantitative","scale":{"domain":[695.9,1162.65],"nice":false,"zero":false},"axis":null},
   "y":{"datum":6529.84,"type":"quantitative","scale":{"domain":[6532.27,6738.94],"nice":false,"zero":false},"axis":null}}}
]
}
